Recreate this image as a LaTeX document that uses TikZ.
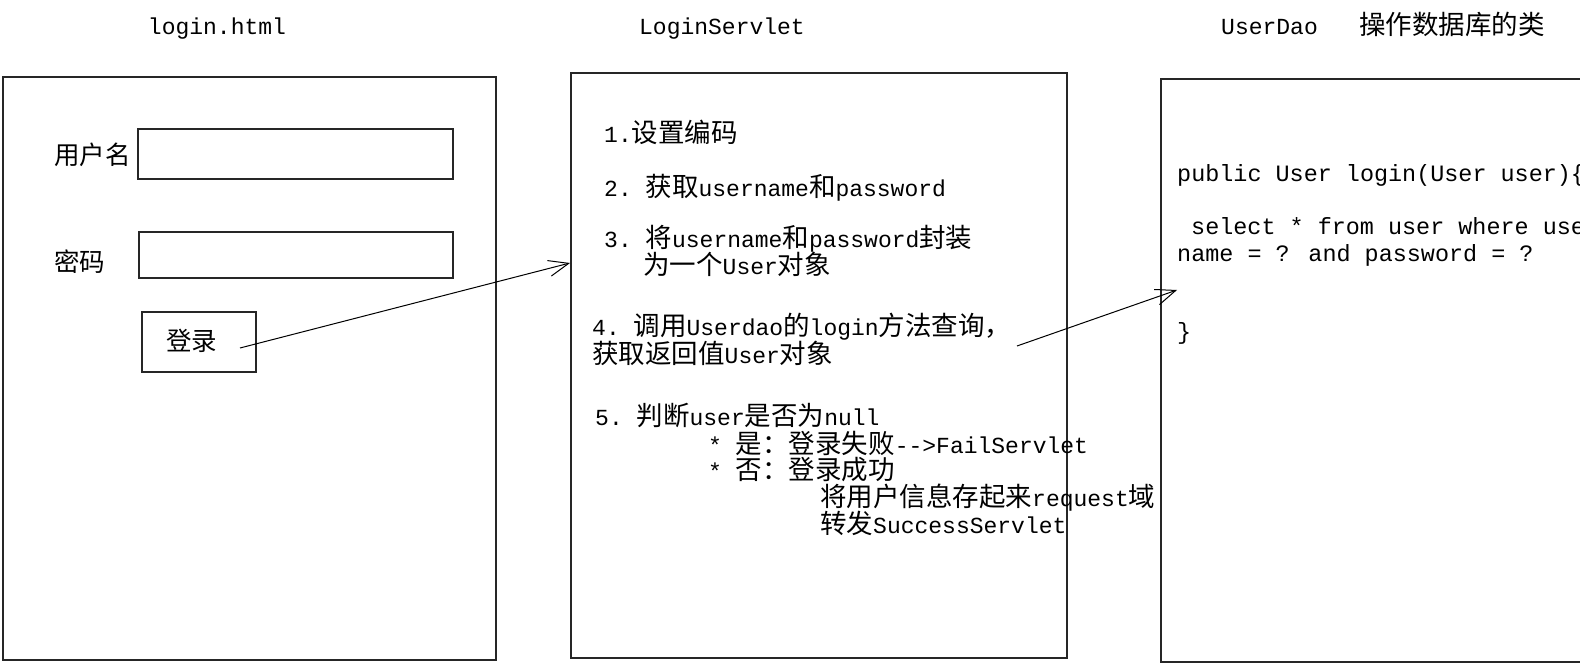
\documentclass[tikz,border=0pt]{standalone}
\usepackage{fontspec}
\setmainfont{Liberation Mono}[Scale=0.868]
\newfontfamily\cjk{Noto Sans CJK SC}
\usetikzlibrary{arrows.meta}
\begin{document}
\begin{tikzpicture}[x=1pt,y=-1pt,
  box/.style={draw=black!85,line width=1.4pt,inner sep=0pt},
  txt/.style={anchor=base west,inner sep=0pt,font=\fontsize{26.5}{27}\selectfont},
  code/.style={anchor=base west,inner sep=0pt,font=\fontsize{27}{27}\selectfont},
  lbl/.style={anchor=base west,inner sep=0pt,font=\fontsize{25.5}{27}\selectfont\cjk},
  ttl/.style={anchor=base,inner sep=0pt,font=\fontsize{26.5}{27}\selectfont},
  conn/.style={line width=1pt,-{Straight Barb[length=20pt,width=16pt,line width=1pt]}}]
\useasboundingbox (0,0) rectangle (1580,668);
\clip (0,0) rectangle (1580,668);
\fill[white] (0,0) rectangle (1580,668);
% titles
\node[ttl] (th) at (217,35) {login.html};
\node[ttl] (ts) at (722,35) {LoginServlet};
\node[ttl,anchor=base west] (td) at (1221,35) {UserDao};
\node[ttl,anchor=base west] (tdz) at (1359,35) {\cjk 操作数据库的类};
% boxes
\node[box,minimum width=493pt,minimum height=583pt] (html) at (249.5,368.5) {};
\node[box,minimum width=496pt,minimum height=585pt] (servlet) at (819,365.5) {};
\node[box,minimum width=539pt,minimum height=583pt] (dao) at (1430.5,370.5) {};
% form
\node[box,minimum width=315pt,minimum height=50pt] (f1) at (295.5,154) {};
\node[box,minimum width=314pt,minimum height=46pt] (f2) at (296,255) {};
\node[box,minimum width=114pt,minimum height=60pt] (btn) at (199,342) {};
\node[lbl] (l1) at (54,165) {用户名};
\node[lbl] (l2) at (54,272) {密码};
\node[lbl] (l3) at (166,351) {登录};
% servlet steps
\node[txt] (s1) at (604,143) {1.{\cjk 设置编码}};
\node[txt] (s2) at (604,197) {2.\ {\cjk 获取}username{\cjk 和}password};
\node[txt] (s3) at (604,248) {3.\ {\cjk 将}username{\cjk 和}password{\cjk 封装}};
\node[txt] (s3b) at (643,275) {{\cjk 为一个}User{\cjk 对象}};
\node[txt] (s4) at (592,336) {4.\ {\cjk 调用}Userdao{\cjk 的}login{\cjk 方法查询，}};
\node[txt] (s4b) at (592,363) {{\cjk 获取返回值}User{\cjk 对象}};
\node[txt] (s5) at (595,425) {5.\ {\cjk 判断}user{\cjk 是否为}null};
\node[txt] (s5a) at (708,453) {*\ {\cjk 是：登录失败}-{}-{}>FailServlet};
\node[txt] (s5b) at (708,479) {*\ {\cjk 否：登录成功}};
\node[txt] (s5c) at (820,506) {{\cjk 将用户信息存起来}request{\cjk 域}};
\node[txt] (s5d) at (820,533) {{\cjk 转发}SuccessServlet};
% dao code
\node[code] (c1) at (1177,182) {public User login(User user)\{};
\node[code] (c2) at (1191,235) {select * from user where user};
\node[code] (c3) at (1177,262) {name = ? and password = ?};
\node[code] (c4) at (1177,340) {\}};
% connectors
\coordinate (a1s) at (240,348);
\coordinate (a1e) at (570,263);
\coordinate (a2s) at (1017,346);
\coordinate (a2e) at (1177,290);
\draw[conn] (a1s) -- (a1e);
\draw[conn] (a2s) -- (a2e);
\end{tikzpicture}
\end{document}
